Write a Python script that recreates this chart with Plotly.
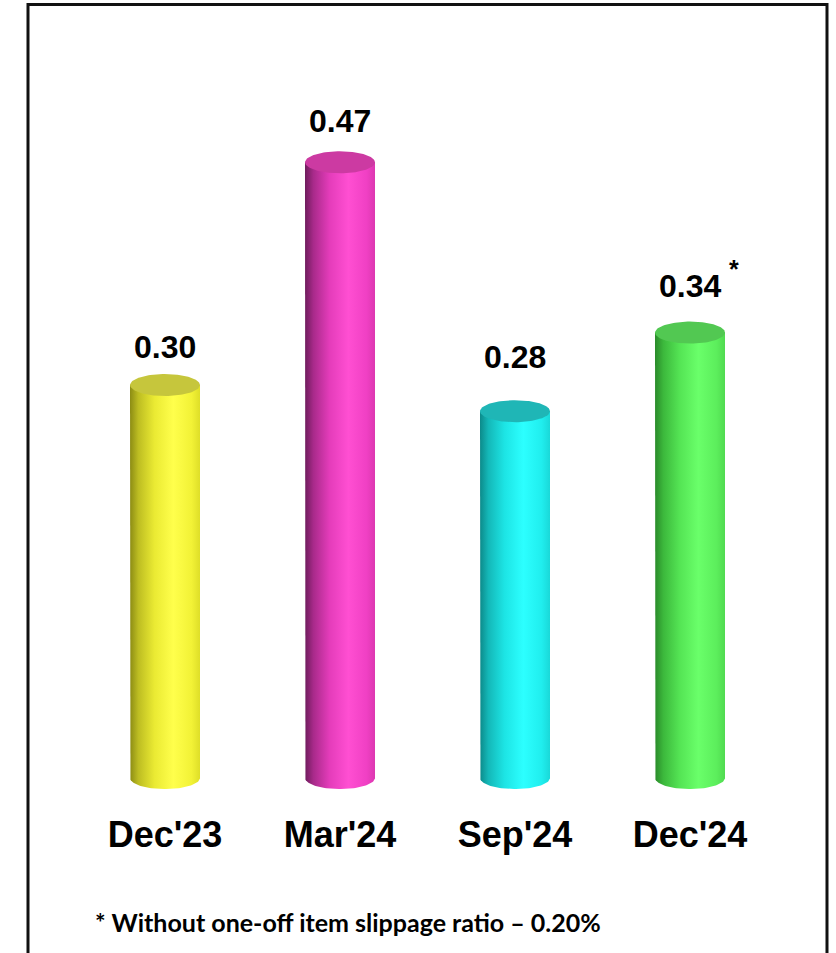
import numpy as np
import plotly.graph_objects as go

# ---- data ----
categories = ["Dec'23", "Mar'24", "Sep'24", "Dec'24"]
values = [0.30, 0.47, 0.28, 0.34]
value_labels = ["0.30", "0.47", "0.28", "0.34"]
footnote = "* Without one-off item slippage ratio \u2013 0.20%"

# ---- style ----
body_scales = [
    [[0, "#8c8c14"], [0.12, "#bdbd22"], [0.35, "#eaea33"], [0.62, "#ffff4c"], [0.88, "#f2f236"], [1, "#dede28"]],
    [[0, "#6e1c5c"], [0.12, "#a82a8a"], [0.35, "#e43cba"], [0.62, "#ff4fd2"], [0.88, "#f040c4"], [1, "#dc38b0"]],
    [[0, "#0c8a8a"], [0.12, "#14b8b8"], [0.35, "#1de4e4"], [0.62, "#2cffff"], [0.88, "#20eeee"], [1, "#1ad8d8"]],
    [[0, "#2a8a2a"], [0.12, "#3cb83c"], [0.35, "#54e454"], [0.62, "#6aff6a"], [0.88, "#5cee5c"], [1, "#50da50"]],
]
top_colors = ["#c6c63c", "#cc3aa2", "#1fb6b6", "#52c852"]
label_lift_px = [38, 41, 54, 47]

W, H_PAGE = 836, 953
B = 158
H = H_PAGE - B
base_px, px_per_unit = 778, 1310
cx0, dx = 165, 175
ymax = base_px / px_per_unit
ymin = -(H - base_px) / px_per_unit
xmin = -cx0 / dx
xmax = (W - cx0) / dx

half_w = 35 / dx           # cylinder radius in x units
half_h = 11 / px_per_unit  # ellipse half height in y units

fig = go.Figure()
t_bot = np.linspace(np.pi, 2 * np.pi, 60)
t_full = np.linspace(0, 2 * np.pi, 120)
for i, v in enumerate(values):
    xs = [i - half_w, i - half_w] + list(i + half_w * np.cos(t_bot)) + [i + half_w, i - half_w]
    ys = [v, 0] + list(half_h * np.sin(t_bot)) + [v, v]
    fig.add_trace(go.Scatter(
        x=xs, y=ys, mode="lines", fill="toself", line=dict(width=0),
        fillgradient=dict(type="horizontal", colorscale=body_scales[i]),
        hoverinfo="skip", showlegend=False))
    fig.add_trace(go.Scatter(
        x=list(i + half_w * np.cos(t_full)), y=list(v + half_h * np.sin(t_full)),
        mode="lines", fill="toself", line=dict(width=0), fillcolor=top_colors[i],
        hoverinfo="skip", showlegend=False))
    fig.add_annotation(x=i, y=v, text="<b>%s</b>" % value_labels[i], showarrow=False,
                       yshift=label_lift_px[i], xanchor="center", yanchor="middle",
                       font=dict(family="Liberation Sans, Arial", size=32, color="#000"))

fig.add_annotation(x=3, y=values[3], text="<b>*</b>", showarrow=False, xshift=44, yshift=64,
                   font=dict(family="Liberation Sans, Arial", size=25, color="#000"))

fig.add_annotation(xref="paper", yref="paper", x=93 / W, y=(H - 922) / H, xanchor="left",
                   yanchor="middle", text="<b>%s</b>" % footnote, showarrow=False,
                   font=dict(family="Lato, Noto Sans", size=25, color="#000"))

# frame (open at bottom)
lx, rx, ty = 28 / W, 827 / W, (H - 4.5) / H
by = (H - H_PAGE - 5) / H
fig.add_shape(type="path", xref="paper", yref="paper",
              path="M %f %f L %f %f L %f %f L %f %f" % (lx, by, lx, ty, rx, ty, rx, by),
              line=dict(color="#111111", width=3))

fig.update_xaxes(range=[xmin, xmax], tickvals=list(range(len(categories))),
                 ticktext=["<b>%s</b>" % c for c in categories],
                 showgrid=False, zeroline=False, showline=False, ticks="outside", ticklen=8,
                 tickcolor="rgba(0,0,0,0)",
                 tickfont=dict(family="Liberation Sans, Arial", size=36, color="#000"),
                 fixedrange=True)
fig.update_yaxes(range=[ymin, ymax], visible=False, fixedrange=True)
fig.update_layout(width=W, height=H_PAGE, margin=dict(l=0, r=0, t=0, b=B),
                  paper_bgcolor="white", plot_bgcolor="white",
                  font=dict(family="Liberation Sans, Arial"))
fig.write_html("out.html")
